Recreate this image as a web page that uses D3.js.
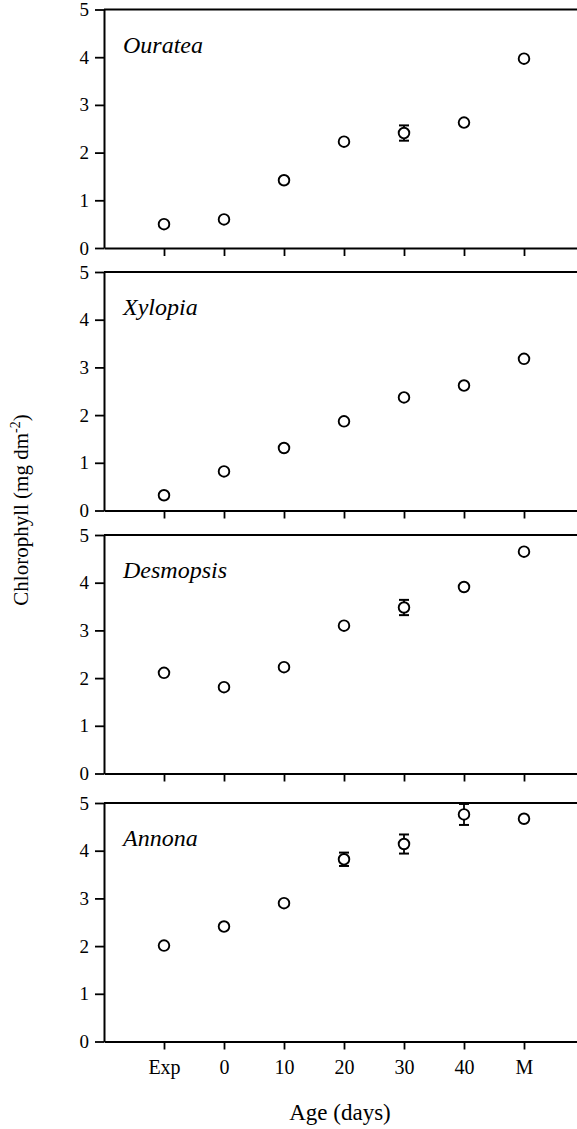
<!DOCTYPE html>
<html>
<head>
<meta charset="utf-8">
<script src="https://cdn.jsdelivr.net/npm/d3@7"></script>
<style>
  html, body { margin: 0; padding: 0; background: #fff; }
  svg { display: block; }
  text { font-family: "Liberation Serif", "DejaVu Serif", serif; fill: #000; }
</style>
</head>
<body>
<svg id="chart" width="577" height="1129"></svg>
<script>
// ---- data ----
const categories = ["Exp", "0", "10", "20", "30", "40", "M"];
const species = ["Ouratea", "Xylopia", "Desmopsis", "Annona"];
const ourateaValues   = [0.50, 0.60, 1.42, 2.23, 2.41, 2.63, 3.97];
const ourateaErrors   = [0, 0, 0, 0, 0.16, 0, 0];
const xylopiaValues   = [0.32, 0.82, 1.31, 1.87, 2.37, 2.62, 3.18];
const xylopiaErrors   = [0, 0, 0, 0, 0, 0, 0];
const desmopsisValues = [2.11, 1.81, 2.23, 3.10, 3.48, 3.91, 4.65];
const desmopsisErrors = [0, 0, 0, 0, 0.16, 0, 0];
const annonaValues    = [2.01, 2.41, 2.90, 3.82, 4.14, 4.76, 4.67];
const annonaErrors    = [0, 0, 0, 0.14, 0.20, 0.22, 0];
const yTicks = [0, 1, 2, 3, 4, 5];
const xTitle = "Age (days)";
const yTitle = "Chlorophyll (mg dm";

const seriesValues = [ourateaValues, xylopiaValues, desmopsisValues, annonaValues];
const seriesErrors = [ourateaErrors, xylopiaErrors, desmopsisErrors, annonaErrors];

// ---- layout ----
const svg = d3.select("#chart");
const left = 104, right = 584;
const panelTops = [9.5, 272, 535, 803];
const panelH = 238.5;

const x = d3.scalePoint().domain(categories).range([left, right]).padding(1);

species.forEach((name, i) => {
  const top = panelTops[i];
  const y = d3.scaleLinear().domain([0, 5]).range([top + panelH, top]);
  const g = svg.append("g");

  // top border
  g.append("line")
    .attr("x1", left).attr("x2", right)
    .attr("y1", y(5)).attr("y2", y(5))
    .attr("stroke", "#000").attr("stroke-width", 2);

  // left axis
  const ya = g.append("g")
    .attr("transform", `translate(${left},0)`)
    .call(d3.axisLeft(y).tickValues(yTicks).tickSize(9).tickSizeOuter(0).tickPadding(6).tickFormat(d3.format("d")));
  ya.select(".domain").attr("stroke-width", 2);
  ya.selectAll(".tick line").attr("stroke-width", 1.8);
  ya.selectAll(".tick text").style("font-size", "19px").style("font-family", "Liberation Serif");

  // bottom axis
  const xa = g.append("g")
    .attr("transform", `translate(0,${y(0)})`)
    .call(d3.axisBottom(x).tickSize(8).tickSizeOuter(0).tickPadding(10)
      .tickFormat(i === species.length - 1 ? (d => d) : (() => "")));
  xa.select(".domain").attr("stroke-width", 2);
  xa.selectAll(".tick line").attr("stroke-width", 1.8);
  xa.selectAll(".tick text").style("font-size", "20px").style("font-family", "Liberation Serif");

  // species label
  g.append("text")
    .attr("x", 123).attr("y", top + 43)
    .style("font-size", "24px").style("font-style", "italic")
    .text(name);

  const vals = seriesValues[i], errs = seriesErrors[i];
  const pts = categories.map((c, k) => ({ c, v: vals[k], e: errs[k] }));

  // error bars
  const eb = g.selectAll(".eb").data(pts.filter(d => d.e > 0)).enter().append("g");
  eb.append("line")
    .attr("x1", d => x(d.c)).attr("x2", d => x(d.c))
    .attr("y1", d => y(d.v + d.e)).attr("y2", d => y(d.v - d.e))
    .attr("stroke", "#000").attr("stroke-width", 1.8);
  [1, -1].forEach(s => {
    eb.append("line")
      .attr("x1", d => x(d.c) - 5).attr("x2", d => x(d.c) + 5)
      .attr("y1", d => y(d.v + s * d.e)).attr("y2", d => y(d.v + s * d.e))
      .attr("stroke", "#000").attr("stroke-width", 2);
  });

  // points
  g.selectAll(".pt").data(pts).enter().append("circle")
    .attr("cx", d => x(d.c)).attr("cy", d => y(d.v))
    .attr("r", 5.3)
    .attr("fill", "#fff").attr("stroke", "#000").attr("stroke-width", 1.9);
});

// axis titles
svg.append("text")
  .attr("x", 340).attr("y", 1120)
  .attr("text-anchor", "middle")
  .style("font-size", "23px")
  .text(xTitle);

const yt = svg.append("text")
  .attr("transform", "translate(28,510) rotate(-90)")
  .attr("text-anchor", "middle")
  .style("font-size", "21px");
yt.append("tspan").text(yTitle);
yt.append("tspan").attr("dy", -8).style("font-size", "14px").text("-2");
yt.append("tspan").attr("dy", 8).text(")");
</script>
</body>
</html>
